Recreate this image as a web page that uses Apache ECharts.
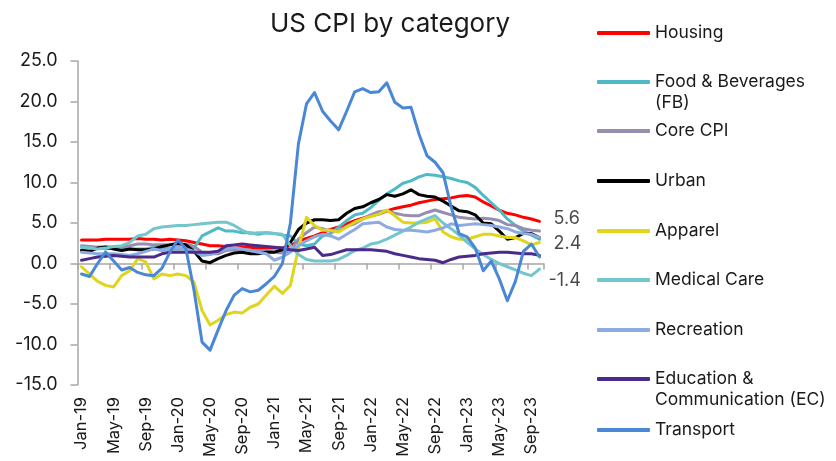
<!DOCTYPE html>
<html>
<head>
<meta charset="utf-8">
<script src="https://cdn.jsdelivr.net/npm/echarts@6/dist/echarts.min.js"></script>
<style>
html, body { margin: 0; padding: 0; background: #ffffff; }
#chart { width: 836px; height: 461px; }
</style>
</head>
<body>
<div id="chart"></div>
<script>
const months = [
	"Jan-19", "Feb-19", "Mar-19", "Apr-19", "May-19", "Jun-19", "Jul-19", "Aug-19", "Sep-19", "Oct-19", "Nov-19", "Dec-19",
	"Jan-20", "Feb-20", "Mar-20", "Apr-20", "May-20", "Jun-20", "Jul-20", "Aug-20", "Sep-20", "Oct-20", "Nov-20", "Dec-20",
	"Jan-21", "Feb-21", "Mar-21", "Apr-21", "May-21", "Jun-21", "Jul-21", "Aug-21", "Sep-21", "Oct-21", "Nov-21", "Dec-21",
	"Jan-22", "Feb-22", "Mar-22", "Apr-22", "May-22", "Jun-22", "Jul-22", "Aug-22", "Sep-22", "Oct-22", "Nov-22", "Dec-22",
	"Jan-23", "Feb-23", "Mar-23", "Apr-23", "May-23", "Jun-23", "Jul-23", "Aug-23", "Sep-23", "Oct-23"
];

const housing = [
	2.9, 2.9, 2.9, 3.0, 3.0, 3.0, 3.0, 3.1, 3.0, 3.0, 2.9, 3.0,
	2.9, 2.8, 2.6, 2.4, 2.2, 2.2, 2.1, 2.1, 2.0, 2.0, 1.9, 1.9,
	1.9, 1.9, 2.2, 2.8, 3.1, 3.4, 3.8, 4.2, 4.5, 4.9, 5.3, 5.6,
	5.9, 6.1, 6.5, 6.8, 7.0, 7.2, 7.5, 7.7, 7.9, 8.0, 8.1, 8.3,
	8.4, 8.2, 7.6, 7.1, 6.6, 6.2, 6.0, 5.7, 5.5, 5.2
];
const foodBeverages = [
	1.7, 1.9, 2.0, 1.8, 2.0, 1.9, 1.8, 1.8, 1.8, 2.0, 2.0, 1.8,
	1.8, 1.8, 1.9, 3.4, 3.9, 4.4, 4.0, 4.0, 3.8, 3.8, 3.6, 3.8,
	3.7, 3.5, 3.4, 2.4, 2.2, 2.4, 3.4, 3.7, 4.5, 5.3, 6.0, 6.2,
	6.9, 7.8, 8.6, 9.2, 9.9, 10.2, 10.7, 11.0, 10.9, 10.7, 10.5, 10.2,
	10.0, 9.4, 8.4, 7.5, 6.6, 5.5, 4.7, 4.0, 3.5, 3.0
];
const coreCpi = [
	2.2, 2.1, 2.0, 2.1, 2.0, 2.1, 2.2, 2.4, 2.4, 2.3, 2.3, 2.3,
	2.3, 2.4, 2.1, 1.4, 1.2, 1.2, 1.6, 1.7, 1.7, 1.6, 1.6, 1.6,
	1.4, 1.3, 1.6, 3.0, 3.8, 4.5, 4.3, 4.0, 4.0, 4.6, 4.9, 5.5,
	6.0, 6.4, 6.5, 6.2, 6.0, 5.9, 5.9, 6.3, 6.6, 6.3, 6.0, 5.7,
	5.6, 5.5, 5.6, 5.5, 5.3, 4.8, 4.7, 4.3, 4.1, 4.0
];
const urban = [
	1.6, 1.5, 1.9, 2.0, 1.8, 1.6, 1.8, 1.7, 1.7, 1.8, 2.1, 2.3,
	2.5, 2.3, 1.5, 0.3, 0.1, 0.6, 1.0, 1.3, 1.4, 1.2, 1.2, 1.4,
	1.4, 1.7, 2.6, 4.2, 5.0, 5.4, 5.4, 5.3, 5.4, 6.2, 6.8, 7.0,
	7.5, 7.9, 8.5, 8.3, 8.6, 9.1, 8.5, 8.3, 8.2, 7.7, 7.1, 6.5,
	6.4, 6.0, 5.0, 4.9, 4.0, 3.0, 3.2, 3.7, 3.7, 3.2
];
const apparel = [
	-0.4, -1.3, -2.2, -2.7, -2.9, -1.5, -0.9, 0.6, 0.2, -1.9, -1.3, -1.5,
	-1.3, -1.5, -2.3, -5.8, -7.6, -7.0, -6.3, -6.0, -6.1, -5.4, -5.0, -3.9,
	-2.8, -3.7, -2.7, 1.9, 5.7, 4.7, 4.1, 4.1, 3.9, 4.5, 5.1, 5.5,
	5.8, 6.1, 6.6, 5.9, 5.1, 5.0, 5.0, 5.1, 5.5, 3.9, 3.3, 3.0,
	3.0, 3.3, 3.6, 3.6, 3.4, 3.2, 3.2, 2.8, 2.3, 2.6
];
const medicalCare = [
	2.0, 1.9, 1.8, 1.9, 2.1, 2.2, 2.6, 3.4, 3.6, 4.3, 4.5, 4.6,
	4.7, 4.7, 4.8, 4.9, 5.0, 5.1, 5.1, 4.7, 4.1, 3.7, 3.8, 3.8,
	3.7, 3.6, 2.2, 1.1, 0.5, 0.3, 0.3, 0.3, 0.5, 1.0, 1.6, 1.9,
	2.4, 2.6, 3.0, 3.5, 4.0, 4.5, 5.1, 5.5, 5.9, 5.0, 4.3, 3.5,
	2.6, 1.8, 1.1, 0.5, 0.0, -0.4, -0.8, -1.2, -1.5, -0.7
];
const recreation = [
	1.4, 1.3, 1.2, 1.2, 1.2, 1.1, 1.0, 1.2, 1.5, 1.8, 1.6, 1.8,
	2.0, 1.8, 1.5, 1.0, 1.1, 1.4, 1.8, 2.0, 1.8, 1.6, 1.4, 1.2,
	0.4, 0.8, 1.4, 2.2, 2.8, 3.3, 3.6, 3.4, 3.0, 3.6, 4.2, 4.9,
	5.0, 5.1, 4.5, 4.2, 4.1, 4.1, 4.0, 3.9, 4.1, 4.4, 4.9, 4.7,
	4.8, 4.9, 4.8, 4.7, 4.5, 4.3, 3.9, 3.7, 3.6, 3.2
];
const educationComm = [
	0.4, 0.6, 0.8, 0.9, 1.0, 0.9, 0.8, 0.8, 0.8, 0.8, 1.2, 1.4,
	1.4, 1.4, 1.4, 1.4, 1.4, 1.5, 2.2, 2.3, 2.4, 2.3, 2.2, 2.1,
	2.0, 1.9, 1.7, 1.6, 1.8, 2.0, 1.0, 1.1, 1.4, 1.7, 1.7, 1.7,
	1.7, 1.6, 1.5, 1.2, 1.0, 0.8, 0.6, 0.5, 0.4, 0.1, 0.5, 0.8,
	0.9, 1.0, 1.2, 1.3, 1.4, 1.4, 1.3, 1.2, 1.2, 1.0
];
const transport = [
	-1.3, -1.6, 0.0, 1.4, 0.3, -0.8, -0.5, -1.1, -1.4, -1.5, -0.6, 1.4,
	2.9, 1.8, -3.3, -9.7, -10.7, -8.2, -5.8, -3.9, -3.1, -3.5, -3.3, -2.5,
	-1.6, 0.0, 5.0, 14.8, 19.7, 21.1, 18.8, 17.6, 16.5, 18.8, 21.2, 21.6,
	21.1, 21.2, 22.3, 19.9, 19.2, 19.3, 16.0, 13.3, 12.5, 11.2, 7.0, 3.7,
	3.3, 1.9, -0.9, 0.3, -1.9, -4.6, -2.2, 1.5, 2.4, 0.8
];

const seriesNames = [
	"Housing", "Food & Beverages (FB)", "Core CPI", "Urban", "Apparel",
	"Medical Care", "Recreation", "Education & Communication (EC)", "Transport"
];
// legend text, wrapped like the original; the blank first line keeps the
// icon level with the first real line of text
const legendLabels = [
	"Housing", " \nFood & Beverages\n(FB)", "Core CPI", "Urban", "Apparel",
	"Medical Care", "Recreation", " \nEducation &\nCommunication (EC)", "Transport"
];
const seriesData = [housing, foodBeverages, coreCpi, urban, apparel, medicalCare, recreation, educationComm, transport];

// values written beside the line ends
const endLabelValues = [5.6, 2.4, -1.4];

const colors = ["#ff0000", "#4fb9c6", "#958eb0", "#000000", "#e0d51c", "#72c6cc", "#8eaae2", "#4a2a8a", "#4a87d6"];
const font = "Inter, 'Open Sans', sans-serif";
const ink = "#1a1a1a";
const axisGray = "#a6a6a6";

const lineHeight = 21;
const legendCenters = [33, 82, 131, 181, 231, 280, 330, 379, 430];

const legends = seriesNames.map((name, i) => {
	const lines = legendLabels[i].split("\n").length;
	return {
		orient: "vertical",
		left: 597,
		top: legendCenters[i] - lines * lineHeight / 2,
		padding: 0,
		itemWidth: 53,
		itemHeight: 4,
		icon: "roundRect",
		selectedMode: false,
		data: [name],
		formatter: () => legendLabels[i],
		textStyle: { fontFamily: font, fontSize: 17.5, color: ink, lineHeight }
	};
});

const lineSeries = seriesNames.map((name, i) => ({
	name,
	type: "line",
	data: seriesData[i],
	xAxisIndex: 0,
	showSymbol: false,
	symbol: "none",
	lineStyle: { width: 3, color: colors[i], cap: "round", join: "round" },
	itemStyle: { color: colors[i] }
}));

const labelSeries = {
	name: "end labels",
	type: "scatter",
	xAxisIndex: 0,
	symbolSize: 0,
	silent: true,
	data: endLabelValues.map((v, i) => ({
		value: [months.length - 1, v],
		label: { offset: i === 2 ? [-5, 6] : [0, 0] }
	})),
	label: {
		show: true,
		position: "right",
		distance: 14,
		formatter: p => p.value[1].toFixed(1),
		fontFamily: font,
		fontSize: 18,
		color: ink
	}
};

const chart = echarts.init(document.getElementById("chart"), null, { renderer: "canvas" });
chart.setOption({
	animation: false,
	backgroundColor: "#ffffff",
	title: {
		text: "US CPI by category",
		left: 385,
		top: 6,
		textAlign: "center",
		textStyle: { fontFamily: font, fontSize: 26, fontWeight: "normal", color: ink }
	},
	legend: legends,
	grid: { left: 77.5, right: 292.5, top: 61, bottom: 76, containLabel: false, outerBoundsMode: "none" },
	xAxis: [
		{
			type: "category",
			data: months,
			boundaryGap: true,
			axisLine: { onZero: true, lineStyle: { color: axisGray, width: 1.5 } },
			axisTick: { show: true, interval: 3, length: 6, lineStyle: { color: axisGray, width: 1.5 } },
			axisLabel: { show: false },
			splitLine: { show: false }
		},
		{
			type: "category",
			data: months,
			position: "bottom",
			boundaryGap: true,
			axisLine: { show: false, onZero: false },
			axisTick: { show: false },
			axisLabel: { interval: 3, rotate: 90, margin: 12, fontFamily: font, fontSize: 16.5, color: ink },
			splitLine: { show: false }
		}
	],
	yAxis: {
		type: "value",
		min: -15,
		max: 25,
		interval: 5,
		axisLine: { show: true, lineStyle: { color: axisGray, width: 1.5 } },
		axisTick: { show: true, length: 7, lineStyle: { color: axisGray, width: 1.5 } },
		axisLabel: { margin: 20, fontFamily: font, fontSize: 18, color: ink, formatter: v => v.toFixed(1) },
		splitLine: { show: false }
	},
	series: [...lineSeries, labelSeries]
});
</script>
</body>
</html>
